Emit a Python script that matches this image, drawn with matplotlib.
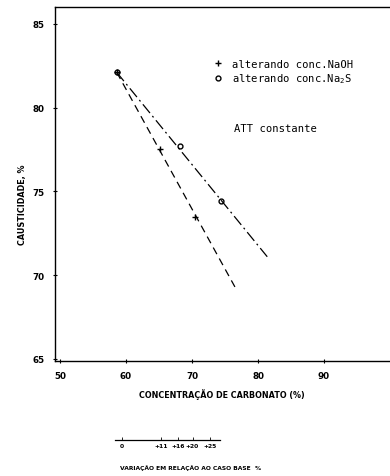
import matplotlib
matplotlib.use("Agg")
import matplotlib.pyplot as plt
from matplotlib.lines import Line2D

plt.rcParams["mathtext.fontset"] = "custom"
plt.rcParams["mathtext.rm"] = "DejaVu Sans Mono"
plt.rcParams["mathtext.it"] = "DejaVu Sans Mono"

# Measured points: carbonate concentration (%) vs causticity (%)
naoh_x = [58.6, 65.2, 70.5]
naoh_y = [82.1, 77.5, 73.5]
na2s_x = [58.6, 68.2, 74.4]
na2s_y = [82.1, 77.7, 74.4]

# Trend lines drawn through each series
naoh_fit_x = [58.6, 76.5]
naoh_fit_y = [82.1, 69.3]
na2s_fit_x = [58.6, 81.4]
na2s_fit_y = [82.1, 71.1]

x_ticks = [50, 60, 70, 80, 90]
y_ticks = [65, 70, 75, 80, 85]

# Secondary scale: variation relative to the base case (%)
var_ticks = [0, 11, 16, 20, 25]
var_labels = ["0", "+11", "+16", "+20", "+25"]

W, H = 390, 477
fig = plt.figure(figsize=(W / 100, H / 100), dpi=100)

def px_axes(x0, y0, x1, y1):
    return fig.add_axes([x0 / W, 1 - y1 / H, (x1 - x0) / W, (y1 - y0) / H])

ax = px_axes(55, 8, 392, 362)
ax.set_xlim(49.24, 100.3)
ax.set_ylim(64.88, 86.0)

ax.plot(naoh_fit_x, naoh_fit_y, color="black", lw=0.9, linestyle=(0, (6, 4)))
ax.plot(na2s_fit_x, na2s_fit_y, color="black", lw=0.9, linestyle=(0, (9, 3, 1.5, 3)))
ax.plot(naoh_x, naoh_y, linestyle="none", marker="+", ms=5, mew=1.0, color="black")
ax.plot(na2s_x, na2s_y, linestyle="none", marker="o", ms=3.5, mew=1.0,
        mfc="none", color="black")

ax.spines["right"].set_visible(False)
for s in ("left", "bottom", "top"):
    ax.spines[s].set_linewidth(1.0)

ax.set_xticks(x_ticks)
ax.set_yticks(y_ticks)
ax.tick_params(direction="inout", length=3, width=0.8, labelsize=6.3, pad=6)
for lab in ax.get_xticklabels() + ax.get_yticklabels():
    lab.set_fontweight("bold")

ax.set_xlabel("CONCENTRAÇÃO DE CARBONATO (%)", fontsize=5.8, fontweight="bold")
ax.set_ylabel("CAUSTICIDADE, %", fontsize=5.8, fontweight="bold")
ax.xaxis.set_label_coords((222 - 55) / 337, -(389 - 362) / 354)
ax.yaxis.set_label_coords(-(55 - 27) / 337, 1 - (205 - 8) / 354)

handles = [
    Line2D([], [], linestyle="none", marker="+", ms=5, mew=1.0, color="black"),
    Line2D([], [], linestyle="none", marker="o", ms=3.5, mew=1.0, mfc="none",
           color="black"),
]
ax.legend(handles, ["alterando conc.NaOH", r"alterando conc.Na$_2$S"],
          loc="upper left", bbox_to_anchor=((214 - 55) / 337, 1 - (60 - 8) / 354),
          frameon=False, handlelength=0.8, handletextpad=0.9, borderpad=0,
          borderaxespad=0, labelspacing=0.25,
          prop={"family": "DejaVu Sans Mono", "size": 7.6})
ax.text((234 - 55) / 337, 1 - (129 - 8) / 354, "ATT constante",
        transform=ax.transAxes, family="DejaVu Sans Mono", fontsize=7.6,
        va="center", ha="left")

# Secondary variation scale beneath the chart
ax2 = px_axes(115, 440, 220, 441)
ax2.set_xlim(-2, 27.8)
ax2.set_ylim(0, 1)
ax2.set_yticks([])
for s in ("left", "right", "top"):
    ax2.spines[s].set_visible(False)
ax2.spines["bottom"].set_linewidth(0.9)
ax2.set_facecolor("none")
ax2.set_xticks(var_ticks)
ax2.set_xticklabels(var_labels)
ax2.tick_params(direction="in", length=2, width=0.6, labelsize=4.3, pad=2)
for lab in ax2.get_xticklabels():
    lab.set_fontweight("bold")
fig.text(120 / W, 1 - 468 / H, "VARIAÇÃO EM RELAÇÃO AO CASO BASE  %",
         fontsize=4.3, fontweight="bold", va="center", ha="left")

fig.savefig("out.png", dpi=100)
